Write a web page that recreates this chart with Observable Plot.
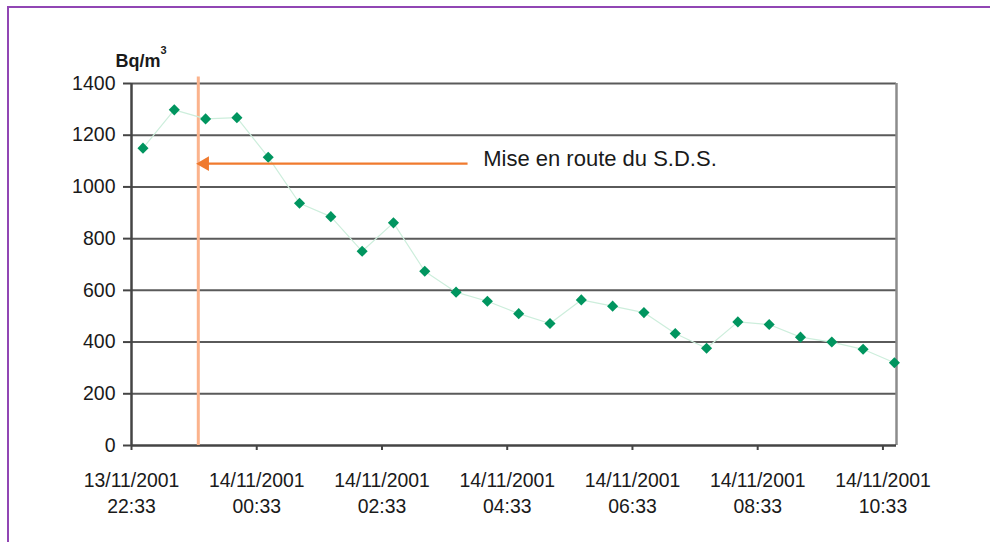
<!DOCTYPE html>
<html><head><meta charset="utf-8">
<script src="https://cdn.jsdelivr.net/npm/d3@7"></script>
<script src="https://cdn.jsdelivr.net/npm/@observablehq/plot@0.6"></script>
<style>
html,body{margin:0;padding:0;background:#fff;}
#wrap{position:relative;width:990px;height:542px;overflow:hidden;}
#frame{position:absolute;left:7px;top:6px;width:1000px;height:600px;border-left:2px solid #9146b4;border-top:2px solid #9146b4;box-sizing:border-box;pointer-events:none;}
#chart{position:absolute;left:0;top:0;}
</style></head>
<body><div id="wrap"><div id="chart"></div><div id="frame"></div></div>
<script>
// Data
const times = ["2001-11-13T22:44","2001-11-13T23:14","2001-11-13T23:44","2001-11-14T00:14","2001-11-14T00:44",
  "2001-11-14T01:14","2001-11-14T01:44","2001-11-14T02:14","2001-11-14T02:44","2001-11-14T03:14",
  "2001-11-14T03:44","2001-11-14T04:14","2001-11-14T04:44","2001-11-14T05:14","2001-11-14T05:44",
  "2001-11-14T06:14","2001-11-14T06:44","2001-11-14T07:14","2001-11-14T07:44","2001-11-14T08:14",
  "2001-11-14T08:44","2001-11-14T09:14","2001-11-14T09:44","2001-11-14T10:14","2001-11-14T10:44"];
const values = [1150,1298,1263,1268,1115,937,885,751,861,674,593,558,510,472,563,539,514,433,376,478,468,419,400,372,320];
const tickTimes = ["2001-11-13T22:33","2001-11-14T00:33","2001-11-14T02:33","2001-11-14T04:33","2001-11-14T06:33","2001-11-14T08:33","2001-11-14T10:33"];
const tickLabels = ["13/11/2001\n22:33","14/11/2001\n00:33","14/11/2001\n02:33","14/11/2001\n04:33","14/11/2001\n06:33","14/11/2001\n08:33","14/11/2001\n10:33"];
const yTicks = [0,200,400,600,800,1000,1200,1400];
const xDomain = ["2001-11-13T22:33","2001-11-14T10:46"];
const startTime = "2001-11-13T23:37";
const arrowFrom = "2001-11-14T03:55";
const arrowTo = "2001-11-13T23:46";
const arrowY = 1090;
const annotation = "Mise en route du S.D.S.";
const annotationTime = "2001-11-14T04:10";
const annotationY = 1110;
const yLabel = "Bq/m";
const yLabelSup = "3";

const D = s => new Date(s + "Z");
const data = times.map((t, i) => ({t: D(t), v: values[i]}));
const ticks = tickTimes.map((t, i) => ({t: D(t), label: tickLabels[i]}));
const font = "Liberation Sans, Arial, sans-serif";

const chart = Plot.plot({
  width: 990, height: 542,
  marginLeft: 131, marginRight: 94, marginTop: 83, marginBottom: 97,
  style: {fontFamily: font, background: "transparent"},
  x: {type: "utc", domain: xDomain.map(D)},
  y: {domain: [0, 1400]},
  marks: [
    Plot.ruleY(yTicks.filter(d => d > 0), {stroke: "#5a5a5a", strokeWidth: 2}),
    Plot.ruleX([D(xDomain[1])], {y1: 0, y2: 1400, stroke: "#8c8c8c", strokeWidth: 2.5}),
    Plot.axisY({ticks: yTicks, tickFormat: d => String(d), tickSize: 8, tickPadding: 8, fontSize: 19.5, label: null, stroke: "#444", strokeWidth: 2, color: "#1a1a1a"}),
    Plot.axisX({ticks: ticks.map(d => d.t), tickSize: 5, tickFormat: () => "", label: null, stroke: "#444", strokeWidth: 2}),
    Plot.text(ticks, {x: "t", text: "label", frameAnchor: "bottom", dy: 22, lineAnchor: "top", lineHeight: 1.38, fontSize: 19.4, fill: "#1a1a1a"}),
    Plot.ruleY([0], {stroke: "#444", strokeWidth: 2.5}),
    Plot.ruleX([D(xDomain[0])], {y1: 0, y2: 1400, stroke: "#444", strokeWidth: 2.5}),
    Plot.ruleX([D(startTime)], {y1: 0, y2: 1425, stroke: "#fbb38c", strokeWidth: 3}),
    Plot.line(data, {x: "t", y: "v", stroke: "#cdeedc", strokeWidth: 1.2}),
    Plot.dot(data, {x: "t", y: "v", symbol: "diamond2", r: 5, fill: "#00955f", stroke: "none"}),
    Plot.link([{x1: D(arrowFrom), x2: D(arrowTo), y: arrowY}], {x1: "x1", x2: "x2", y1: "y", y2: "y", stroke: "#f07a2e", strokeWidth: 2.2}),
    Plot.dot([{x: D(arrowTo), y: arrowY}], {x: "x", y: "y", symbol: "triangle", r: 5.5, rotate: -90, fill: "#f07a2e", stroke: "none", dx: -3}),
    Plot.text([annotation], {x: D(annotationTime), y: annotationY, text: d => d, textAnchor: "start", fontSize: 22, fill: "#1a1a1a"}),
    Plot.text([yLabel], {frameAnchor: "top-left", dx: -16, dy: -29, text: d => d, textAnchor: "start", fontSize: 18, fontWeight: "bold", fill: "#1a1a1a"}),
    Plot.text([yLabelSup], {frameAnchor: "top-left", dx: 29, dy: -37, text: d => d, textAnchor: "start", fontSize: 11, fontWeight: "bold", fill: "#1a1a1a"})
  ]
});
document.getElementById("chart").appendChild(chart);
</script>
</body></html>
